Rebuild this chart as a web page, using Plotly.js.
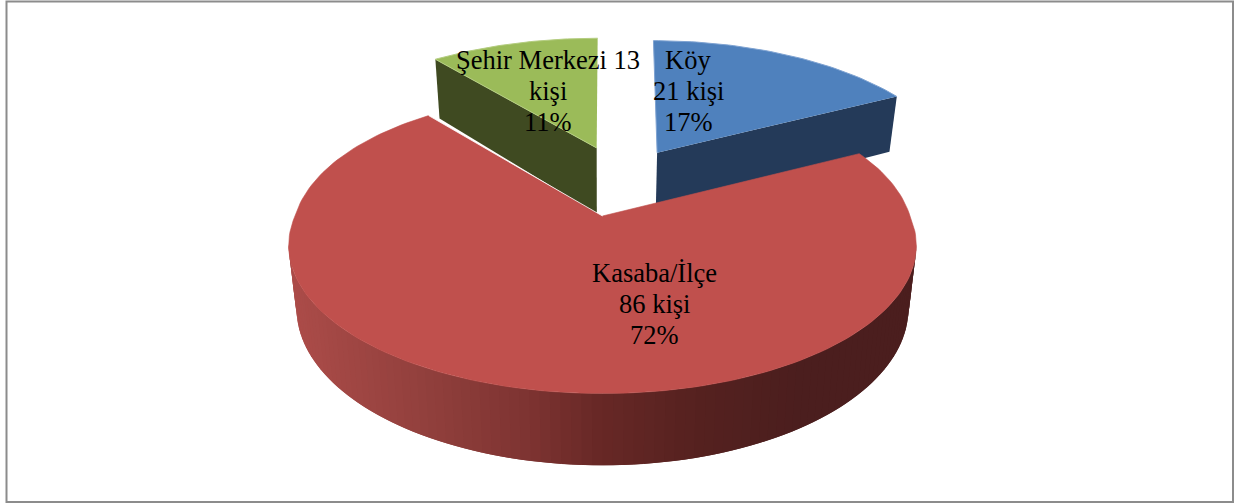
<!DOCTYPE html>
<html>
<head>
<meta charset="utf-8">
<script src="https://cdn.plot.ly/plotly-3.0.1.min.js"></script>
<style>html,body{margin:0;padding:0;background:#fff;overflow:hidden}#chart{width:1245px;height:504px}</style>
</head>
<body>
<div id="chart"></div>
<script>
// Data
const categories = ['Köy', 'Kasaba/İlçe', 'Şehir Merkezi'];
const people = [21, 86, 13];
const percents = [17, 72, 11];

// Styling of each slice (same order as the categories)
const topColors = ['#4f81bd', '#c0504d', '#9bbb59'];
const edgeColors = ['#7fa3d2', '#c0504d', '#b4cd80'];
const sideColors = ['#243a59', '#4b1e1e', '#3f4a21'];
const labelX = [688, 654, 548];
const labelY = [60, 273, 60];
const lineGap = 31;

// Page-level view of the tilted pie (axes are 1:1 with the picture)
const cx = 602.5, cy = 216, A = 307.5, B = 142, P = 0.2;
const offU = [0.195, 0, -0.021], offV = [-0.49, 0, -0.53];
const radiusU = [1.06, 1, 1.075], radiusV = [1.15, 1, 1.14], skew = [0.025, 0, 0], back = [0, 0.06, 0];
const drop = [63, 61, 71], shrink = 0.975;

function project(u, v, low) {
  const w = 1 - P * v, s = low ? shrink : 1;
  return [cx + s * A * u / w, cy + s * B * v / w];
}
function point(i, deg, low) {
  const t = deg * Math.PI / 180;
  let u = offU[i] + radiusU[i] * Math.sin(t) + skew[i] * Math.cos(t);
  let v = offV[i] - radiusV[i] * Math.cos(t);
  if (v < 0) { u *= 1 - back[i] * v; v *= 1 + back[i]; }
  const p = project(u, v, low);
  if (low) p[1] += drop[i] / (1 - P * v);
  return p;
}
function apex(i, low) {
  const p = project(offU[i], offV[i], low);
  if (low) p[1] += drop[i] / (1 - P * offV[i]);
  return p;
}
function poly(pts, fill, lineColor, lineWidth) {
  return {
    type: 'scatter', mode: 'lines', fill: 'toself', fillcolor: fill,
    x: pts.map(p => p[0]), y: pts.map(p => p[1]),
    line: {color: lineColor || fill, width: lineWidth === undefined ? 0 : lineWidth},
    hoverinfo: 'skip', showlegend: false
  };
}
function arc(i, a, b, low, n) {
  const out = [];
  for (let k = 0; k <= n; k++) out.push(point(i, a + (b - a) * k / n, low));
  return out;
}

// Slice angles from the data
const total = people.reduce((s, v) => s + v, 0);
const starts = [], ends = [];
let acc = 0;
people.forEach(v => { starts.push(acc / total * 360); acc += v; ends.push(acc / total * 360); });

// Horizontal shading of the red rim
const rimStops = [[288,[172,76,73]],[420,[146,64,61]],[530,[125,51,49]],[600,[103,40,38]],[700,[85,33,31]],[800,[75,30,30]],[920,[75,30,30]]];
function rimColor(x) {
  for (let k = 1; k < rimStops.length; k++) {
    if (x <= rimStops[k][0]) {
      const a = rimStops[k-1], b = rimStops[k], f = Math.max(0, (x - a[0]) / (b[0] - a[0]));
      const c = a[1].map((q, j) => Math.round(q + (b[1][j] - q) * f));
      return 'rgb(' + c.join(',') + ')';
    }
  }
  return 'rgb(75,30,30)';
}

const traces = [];
// Cut face and top of the small slices
[2, 0].forEach(i => {
  const edgeDeg = i === 0 ? ends[i] : starts[i];
  traces.push(poly([apex(i, false), point(i, edgeDeg, false), point(i, edgeDeg, true), apex(i, true)], sideColors[i]));
  traces.push(poly([apex(i, false)].concat(arc(i, starts[i], ends[i], false, 50)), topColors[i], edgeColors[i], 1));
});
// Rim of the big slice: overlapping strips, painted from the right-hand end
const rimFrom = 101, rimTo = 259, rimSteps = 100, step = (rimTo - rimFrom) / rimSteps;
for (let k = 0; k < rimSteps; k++) {
  const a = rimFrom + step * k, b = Math.min(rimTo, a + step * 2);
  const pts = arc(1, a, b, false, 2).concat(arc(1, b, a, true, 2));
  const mid = (point(1, a, false)[0] + point(1, a + step, false)[0]) / 2;
  traces.push(poly(pts, rimColor(mid)));
}
// Top of the big slice
traces.push(poly([apex(1, false)].concat(arc(1, starts[1], ends[1], false, 180)), topColors[1], topColors[1], 0.6));
// Thin light edge along its upper-left cut
const cut = [point(1, ends[1], false), apex(1, false)];
traces.push({type: 'scatter', mode: 'lines', x: cut.map(p => p[0]), y: cut.map(p => p[1]),
  line: {color: '#ffffff', width: 0.8}, hoverinfo: 'skip', showlegend: false});

const annotations = [];
categories.forEach((c, i) => {
  const lines = i === 2
    ? [c + ' ' + people[i], 'kişi', percents[i] + '%']
    : [c, people[i] + ' kişi', percents[i] + '%'];
  lines.forEach((text, n) => annotations.push({
    x: labelX[i], y: labelY[i] + n * lineGap, xref: 'x', yref: 'y', xanchor: 'center', yanchor: 'middle',
    showarrow: false, text: text,
    font: {family: '"Liberation Serif", serif', size: 26.5, color: '#000'}
  }));
});

const layout = {
  width: 1245, height: 504, margin: {l: 0, r: 0, t: 0, b: 0},
  paper_bgcolor: '#fff', plot_bgcolor: '#fff', showlegend: false,
  xaxis: {range: [0, 1245], visible: false, fixedrange: true},
  yaxis: {range: [504, 0], visible: false, fixedrange: true},
  annotations: annotations,
  shapes: [{type: 'rect', xref: 'x', yref: 'y', x0: 6.5, y0: 1.5, x1: 1233, y1: 502, line: {color: '#8c8c8c', width: 2}, fillcolor: 'rgba(0,0,0,0)', layer: 'below'}]
};
Plotly.newPlot('chart', traces, layout, {staticPlot: true, displayModeBar: false});
</script>
</body>
</html>
